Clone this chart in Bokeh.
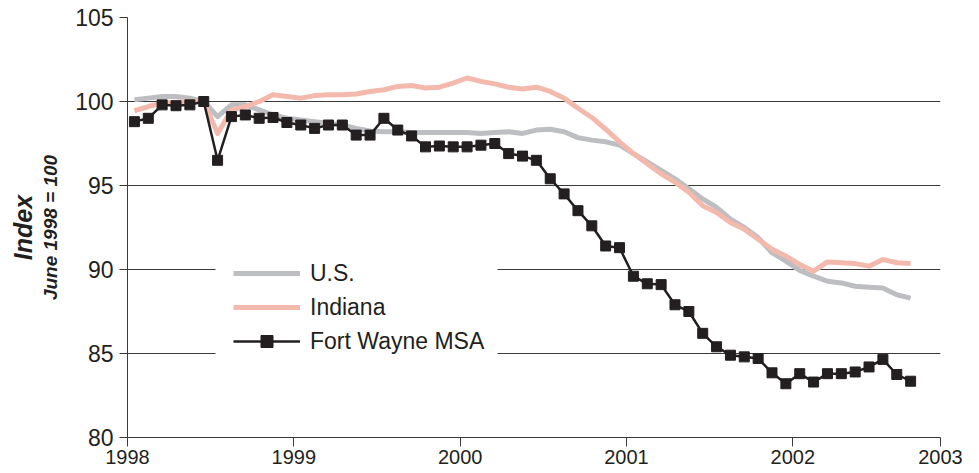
import pandas as pd
from bokeh.plotting import figure
from bokeh.models import (FixedTicker, LinearAxis, Legend, LegendItem, Range1d,
                          CustomJSTickFormatter, BoxAnnotation)
from bokeh.embed import file_html
from bokeh.resources import INLINE

# ---------------- data (monthly, Jan 1998 - Sep 2002) ----------------
months = pd.date_range("1998-01-01", "2002-09-01", freq="MS")

us = [100.1, 100.2, 100.3, 100.3, 100.2, 100.0, 99.1, 99.8, 99.8, 99.5,
      99.2, 99.0, 98.9, 98.8, 98.7, 98.6, 98.4, 98.25, 98.2, 98.2,
      98.15, 98.15, 98.15, 98.15, 98.15, 98.1, 98.15, 98.2, 98.1, 98.3,
      98.35, 98.2, 97.85, 97.7, 97.6, 97.4, 96.9, 96.4, 95.9, 95.4,
      94.8, 94.2, 93.7, 93.0, 92.5, 91.9, 91.0, 90.5, 89.95, 89.6,
      89.3, 89.2, 89.0, 88.95, 88.9, 88.5, 88.3]

indiana = [99.45, 99.7, 99.9, 99.95, 100.0, 100.0, 98.1, 99.5, 99.7, 100.0,
           100.4, 100.3, 100.2, 100.35, 100.4, 100.4, 100.45, 100.6, 100.7, 100.9,
           100.95, 100.8, 100.85, 101.1, 101.4, 101.2, 101.05, 100.85, 100.75, 100.85,
           100.6, 100.2, 99.6, 99.05, 98.35, 97.6, 96.9, 96.3, 95.7, 95.2,
           94.6, 93.8, 93.4, 92.8, 92.4, 91.8, 91.2, 90.8, 90.3, 89.9,
           90.45, 90.4, 90.35, 90.2, 90.6, 90.4, 90.35]

fort_wayne = [98.8, 99.0, 99.8, 99.75, 99.8, 100.0, 96.5, 99.1, 99.2, 99.0,
              99.05, 98.75, 98.6, 98.4, 98.6, 98.6, 98.0, 98.0, 99.0, 98.3,
              97.95, 97.3, 97.35, 97.3, 97.3, 97.4, 97.5, 96.9, 96.75, 96.5,
              95.4, 94.5, 93.5, 92.6, 91.4, 91.3, 89.6, 89.15, 89.1, 87.9,
              87.5, 86.2, 85.4, 84.9, 84.8, 84.7, 83.85, 83.2, 83.8, 83.3,
              83.8, 83.8, 83.9, 84.2, 84.65, 83.75, 83.35]

year_labels = [1998, 1999, 2000, 2001, 2002, 2003]
y_ticks = [80, 85, 90, 95, 100, 105]
grid_values = [85, 90, 95, 100]
title_main = "Index"
title_sub = "June 1998 = 100"

# ---------------- styling ----------------
GRAY = "#bdbec1"
PINK = "#f3b9ad"
BLACK = "#231f20"
AXIS = "#3a3a3a"
FONT = "Liberation Sans"
TITLE_SPAN = (87.0, 99.5)   # vertical extent the y titles are centred on

x = [m.year + (m.month - 0.5) / 12.0 for m in months]
X_START = 1998.0
X_END = 2002.888

p = figure(width=970, height=473, output_backend="svg", toolbar_location=None,
           x_range=Range1d(X_START, X_END), y_range=Range1d(80, 105),
           min_border_left=127, min_border_top=17, min_border_right=30,
           min_border_bottom=36)
p.outline_line_color = None
p.background_fill_color = "white"

# axes
xt = [float(v) for v in year_labels[:-1]] + [X_END]
p.xaxis.ticker = FixedTicker(ticks=xt)
p.xaxis.formatter = CustomJSTickFormatter(code="return Math.round(tick).toFixed(0)")
p.xaxis.major_label_text_font = FONT
p.xaxis.major_label_text_font_size = "20px"
p.xaxis.major_label_text_color = BLACK
p.xaxis.major_label_standoff = 3
p.xaxis.major_tick_out = 9
p.xaxis.major_tick_in = 0
p.xaxis.minor_tick_line_color = None
p.xaxis.axis_line_color = AXIS
p.xaxis.major_tick_line_color = AXIS

p.yaxis.ticker = FixedTicker(ticks=y_ticks)
p.yaxis.major_label_text_font = FONT
p.yaxis.major_label_text_font_size = "23px"
p.yaxis.major_label_text_color = BLACK
p.yaxis.major_label_standoff = 6
p.yaxis.major_tick_out = 8
p.yaxis.major_tick_in = 0
p.yaxis.minor_tick_line_color = None
p.yaxis.axis_line_color = AXIS
p.yaxis.major_tick_line_color = AXIS


def title_axis(text, size, standoff):
    return LinearAxis(ticker=FixedTicker(ticks=[]), axis_label=text,
                      bounds=TITLE_SPAN,
                      axis_line_color=None, major_tick_line_color=None,
                      minor_tick_line_color=None, major_tick_out=0, major_tick_in=0,
                      axis_label_text_font=FONT, axis_label_text_font_style="bold italic",
                      axis_label_text_font_size=size, axis_label_text_color=BLACK,
                      axis_label_standoff=standoff)


p.add_layout(title_axis(title_sub, "19px", 12), "left")
p.add_layout(title_axis(title_main, "25px", 0), "left")

# grid
p.xgrid.grid_line_color = None
p.ygrid.ticker = FixedTicker(ticks=grid_values)
p.ygrid.grid_line_color = AXIS
p.ygrid.grid_line_width = 1

# series
r_us = p.line(x, us, line_color=GRAY, line_width=5, line_join="round")
r_in = p.line(x, indiana, line_color=PINK, line_width=5, line_join="round")
r_fw = p.line(x, fort_wayne, line_color=BLACK, line_width=2.5)
r_fws = p.scatter(x, fort_wayne, marker="square", size=10, fill_color=BLACK,
                  line_color=BLACK)

# white backing of the legend area (hides the grid lines behind the key)
backing = BoxAnnotation(left=88, right=370, bottom=75, top=200,
                        left_units="screen", right_units="screen",
                        bottom_units="screen", top_units="screen",
                        fill_color="white", fill_alpha=1.0, line_color=None)
p.add_layout(backing)

legend = Legend(items=[LegendItem(label="U.S.", renderers=[r_us]),
                       LegendItem(label="Indiana", renderers=[r_in]),
                       LegendItem(label="Fort Wayne MSA", renderers=[r_fw, r_fws])],
                location=(106, 81), margin=0, padding=0,
                glyph_width=67, glyph_height=30, label_height=30, label_width=187,
                spacing=4, label_standoff=10, label_text_font=FONT,
                label_text_font_size="23px", label_text_color=BLACK,
                background_fill_color="white", background_fill_alpha=1.0,
                border_line_color=None)
p.add_layout(legend, "center")

open("out.html", "w").write(file_html(p, INLINE))
